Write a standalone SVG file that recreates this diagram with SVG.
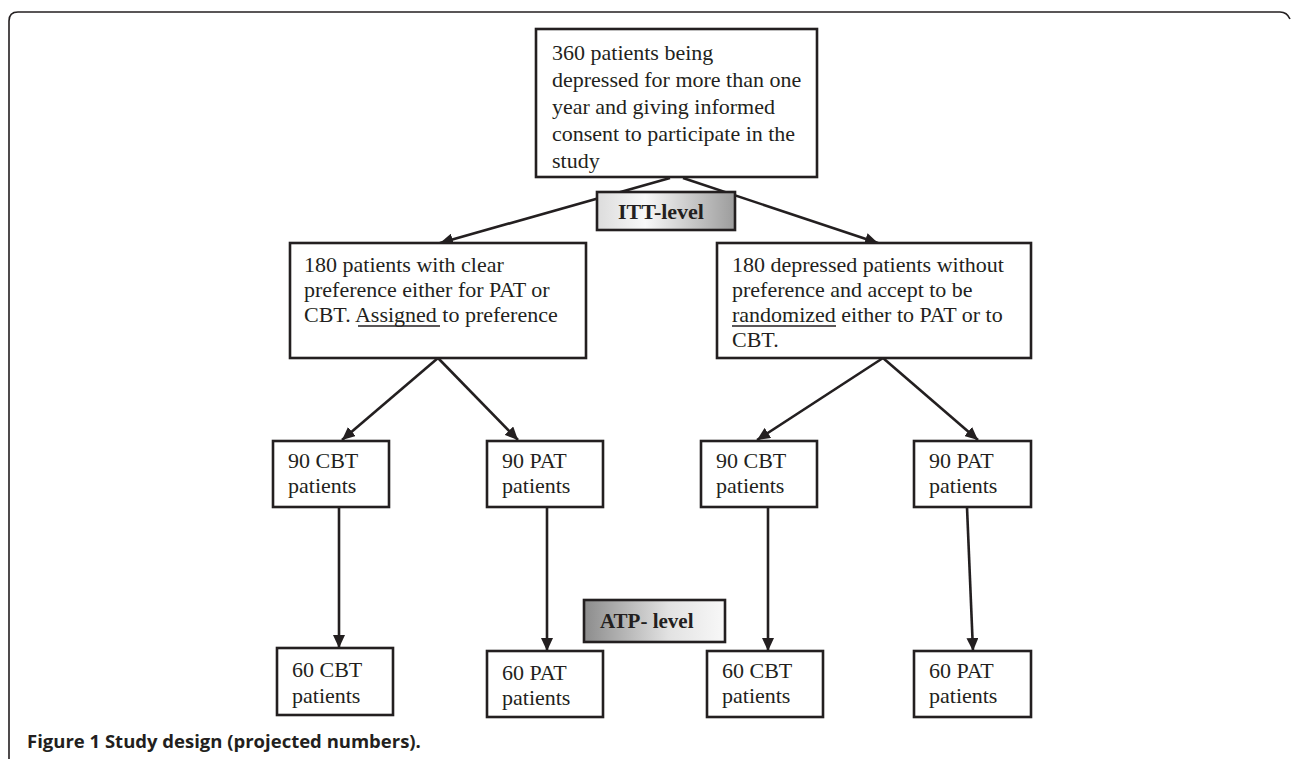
<svg xmlns="http://www.w3.org/2000/svg" width="1292" height="759" viewBox="0 0 1292 759">
<style>
.box{fill:#fff;stroke:#231f20;stroke-width:2.6}
.t{font-family:"Liberation Serif","Times New Roman",serif;font-size:22px;fill:#231f20}
.b{font-family:"Liberation Serif","Times New Roman",serif;font-weight:bold;fill:#231f20}
.ln{stroke:#231f20;stroke-width:2.6;fill:none;marker-end:url(#ah)}
.ul{stroke:#231f20;stroke-width:1.6}
.cap{font-family:"Open Sans","Liberation Sans",sans-serif;font-weight:bold;font-size:18.5px;fill:#231f20}
</style>
<defs>
<marker id="ah" markerUnits="userSpaceOnUse" markerWidth="14" markerHeight="12" refX="13" refY="6" orient="auto">
<path d="M0,0 L13,6 L0,12 Z" fill="#231f20"/>
</marker>
<linearGradient id="gITT" x1="0" y1="0" x2="1" y2="0">
<stop offset="0" stop-color="#dcdcdc"/>
<stop offset="0.35" stop-color="#f8f8f8"/>
<stop offset="1" stop-color="#9c9c9c"/>
</linearGradient>
<linearGradient id="gATP" x1="0" y1="0" x2="1" y2="0">
<stop offset="0" stop-color="#8c8c8c"/>
<stop offset="0.6" stop-color="#e2e2e2"/>
<stop offset="1" stop-color="#f8f8f8"/>
</linearGradient>
</defs>
<rect width="1292" height="759" fill="#fff"/>
<path d="M9,759 V21 Q9,12 18,12 H1280 Q1287,12 1290,19" fill="none" stroke="#231f20" stroke-width="1.6"/>

<g id="connectors">
<line class="ln" x1="670" y1="178" x2="440" y2="243"/>
<line class="ln" x1="683" y1="178" x2="878" y2="243"/>
<line class="ln" x1="438" y1="358" x2="342" y2="440"/>
<line class="ln" x1="438" y1="358" x2="518" y2="440"/>
<line class="ln" x1="883" y1="358" x2="757" y2="440"/>
<line class="ln" x1="883" y1="358" x2="978" y2="440"/>
<line class="ln" x1="339" y1="507" x2="339" y2="648"/>
<line class="ln" x1="547" y1="507" x2="547" y2="651"/>
<line class="ln" x1="768" y1="507" x2="768" y2="651"/>
<line class="ln" x1="967" y1="507" x2="973" y2="651"/>
</g>

<g id="top">
<rect class="box" x="536" y="29" width="281" height="148"/>
<text class="t" x="552" y="60">360 patients being</text>
<text class="t" x="552" y="87">depressed for more than one</text>
<text class="t" x="552" y="114">year and giving informed</text>
<text class="t" x="552" y="141">consent to participate in the</text>
<text class="t" x="552" y="168">study</text>
</g>

<g id="itt">
<rect x="597" y="192" width="138" height="38" fill="url(#gITT)" stroke="#231f20" stroke-width="2.6"/>
<text class="b" x="661" y="219" font-size="22" text-anchor="middle">ITT-level</text>
</g>

<g id="pref">
<rect class="box" x="290" y="243" width="296" height="115"/>
<text class="t" x="304" y="272">180 patients with clear</text>
<text class="t" x="304" y="297">preference either for PAT or</text>
<text class="t" x="304" y="322">CBT. Assigned to preference</text>
<line class="ul" x1="358" y1="326" x2="440" y2="326"/>
</g>

<g id="rand">
<rect class="box" x="717" y="243" width="314" height="115"/>
<text class="t" x="732" y="272">180 depressed patients without</text>
<text class="t" x="732" y="297">preference and accept to be</text>
<text class="t" x="732" y="322">randomized either to PAT or to</text>
<text class="t" x="732" y="347">CBT.</text>
<line class="ul" x1="732" y1="326" x2="836" y2="326"/>
</g>

<g id="cbt90a">
<rect class="box" x="273" y="441" width="116" height="66"/>
<text class="t" x="288" y="468">90 CBT</text>
<text class="t" x="288" y="493">patients</text>
</g>
<g id="pat90a">
<rect class="box" x="487" y="441" width="116" height="66"/>
<text class="t" x="502" y="468">90 PAT</text>
<text class="t" x="502" y="493">patients</text>
</g>
<g id="cbt90b">
<rect class="box" x="701" y="441" width="116" height="66"/>
<text class="t" x="716" y="468">90 CBT</text>
<text class="t" x="716" y="493">patients</text>
</g>
<g id="pat90b">
<rect class="box" x="914" y="441" width="117" height="66"/>
<text class="t" x="929" y="468">90 PAT</text>
<text class="t" x="929" y="493">patients</text>
</g>

<g id="atp">
<rect x="584" y="600" width="141" height="42" fill="url(#gATP)" stroke="#231f20" stroke-width="2.6"/>
<text class="b" x="600" y="628" font-size="21">ATP- level</text>
</g>

<g id="cbt60a">
<rect class="box" x="277" y="648" width="116" height="67"/>
<text class="t" x="292" y="677">60 CBT</text>
<text class="t" x="292" y="703">patients</text>
</g>
<g id="pat60a">
<rect class="box" x="487" y="651" width="116" height="66"/>
<text class="t" x="502" y="680">60 PAT</text>
<text class="t" x="502" y="705">patients</text>
</g>
<g id="cbt60b">
<rect class="box" x="707" y="651" width="116" height="66"/>
<text class="t" x="722" y="678">60 CBT</text>
<text class="t" x="722" y="703">patients</text>
</g>
<g id="pat60b">
<rect class="box" x="914" y="651" width="117" height="66"/>
<text class="t" x="929" y="678">60 PAT</text>
<text class="t" x="929" y="703">patients</text>
</g>

<text class="cap" x="27" y="748">Figure 1 Study design (projected numbers).</text>
</svg>
